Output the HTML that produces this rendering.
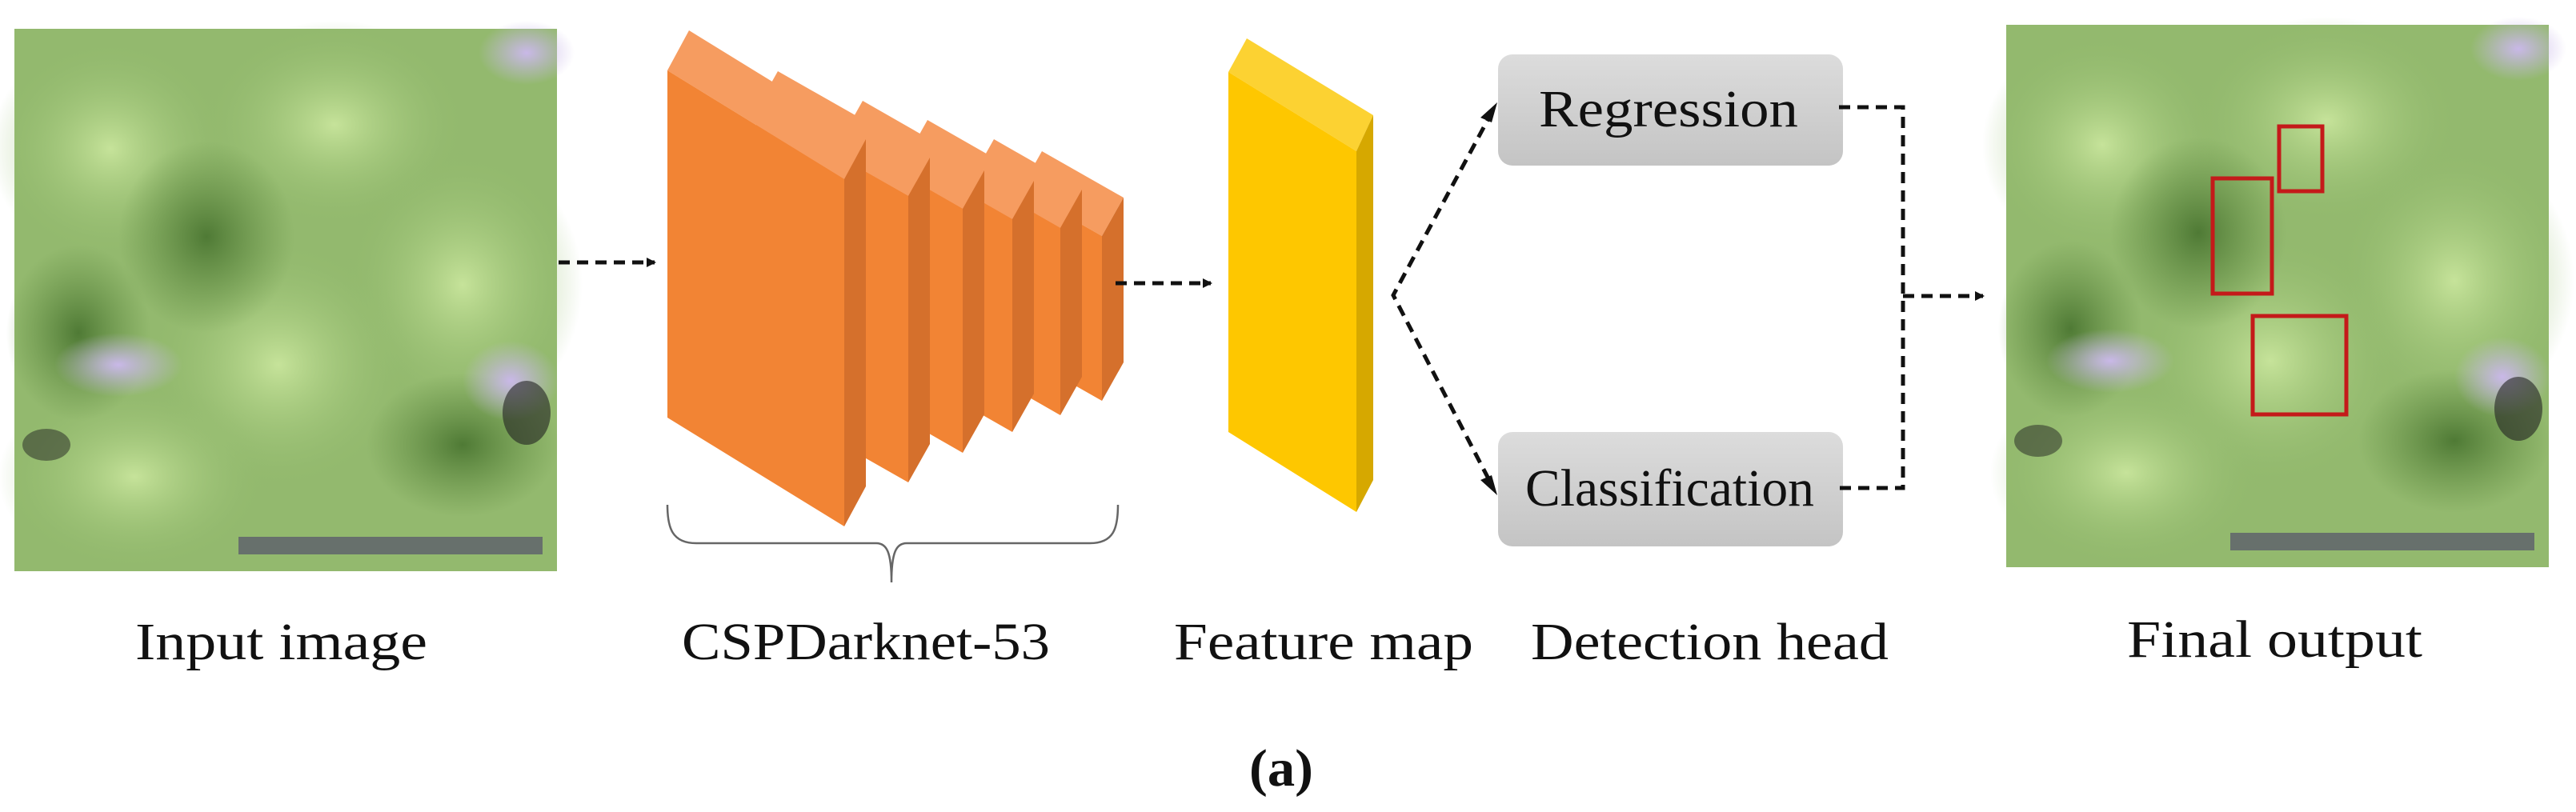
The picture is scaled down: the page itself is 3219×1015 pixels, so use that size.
<!DOCTYPE html>
<html><head><meta charset="utf-8"><style>
html,body{margin:0;padding:0;background:#fff;}
svg{display:block;}
text{font-family:"Liberation Serif",serif;fill:#111;}
</style></head><body>
<svg width="3219" height="1015" viewBox="0 0 3219 1015" xmlns="http://www.w3.org/2000/svg">
<defs>
<linearGradient id="box" x1="0" y1="0" x2="0" y2="1"><stop offset="0" stop-color="#dcdcdc"/><stop offset="1" stop-color="#c4c4c4"/></linearGradient>
<radialGradient id="lf1" cx="0.5" cy="0.5" r="0.5"><stop offset="0" stop-color="#c6e39a"/><stop offset="1" stop-color="#8fb86a" stop-opacity="0"/></radialGradient>
<radialGradient id="lf2" cx="0.5" cy="0.5" r="0.5"><stop offset="0" stop-color="#4f7a35"/><stop offset="1" stop-color="#5f8a40" stop-opacity="0"/></radialGradient>
<radialGradient id="lv" cx="0.5" cy="0.5" r="0.5"><stop offset="0" stop-color="#c9b8e8"/><stop offset="1" stop-color="#c9b8e8" stop-opacity="0"/></radialGradient>
<marker id="ah" markerWidth="12" markerHeight="12" refX="10" refY="6" orient="auto" markerUnits="userSpaceOnUse"><path d="M0,0 L12,6 L0,12 z" fill="#111"/></marker>
<g id="photo">
<rect x="0" y="0" width="678" height="678" fill="#93b96e"/>
<ellipse cx="120" cy="150" rx="150" ry="140" fill="url(#lf1)"/>
<ellipse cx="400" cy="120" rx="170" ry="130" fill="url(#lf1)"/>
<ellipse cx="560" cy="320" rx="150" ry="170" fill="url(#lf1)"/>
<ellipse cx="330" cy="420" rx="170" ry="160" fill="url(#lf1)"/>
<ellipse cx="150" cy="560" rx="170" ry="120" fill="url(#lf1)"/>
<ellipse cx="240" cy="260" rx="110" ry="120" fill="url(#lf2)"/>
<ellipse cx="560" cy="520" rx="120" ry="90" fill="url(#lf2)"/>
<ellipse cx="80" cy="380" rx="90" ry="110" fill="url(#lf2)"/>
<ellipse cx="130" cy="420" rx="80" ry="40" fill="url(#lv)"/>
<ellipse cx="640" cy="30" rx="60" ry="40" fill="url(#lv)"/>
<ellipse cx="620" cy="440" rx="60" ry="50" fill="url(#lv)"/>
<rect x="280" y="635" width="380" height="22" fill="#4a3f6a" opacity="0.6"/>
<ellipse cx="640" cy="480" rx="30" ry="40" fill="#222" opacity="0.6"/>
<ellipse cx="40" cy="520" rx="30" ry="20" fill="#222" opacity="0.5"/>
</g>
</defs>

<g transform="translate(18,36)"><use href="#photo"/></g>

<line x1="698" y1="328" x2="818" y2="328" stroke="#111" stroke-width="5" stroke-dasharray="14,9" marker-end="url(#ah)"/>

<g>
<polygon points="1275,237 1302,189 1404,247 1377,295" fill="#f69c60"/>
<polygon points="1377,295 1404,247 1404,453 1377,501" fill="#d5702c"/>
<polygon points="1275,237 1377,295 1377,501 1275,443" fill="#f28434"/>
<polygon points="1215,222 1242,174 1352,237 1325,285" fill="#f69c60"/>
<polygon points="1325,285 1352,237 1352,471 1325,519" fill="#d5702c"/>
<polygon points="1215,222 1325,285 1325,519 1215,456" fill="#f28434"/>
<polygon points="1132,198 1159,150 1292,226 1265,274" fill="#f69c60"/>
<polygon points="1265,274 1292,226 1292,492 1265,540" fill="#d5702c"/>
<polygon points="1132,198 1265,274 1265,540 1132,464" fill="#f28434"/>
<polygon points="1051,174 1078,126 1230,213 1203,261" fill="#f69c60"/>
<polygon points="1203,261 1230,213 1230,518 1203,566" fill="#d5702c"/>
<polygon points="1051,174 1203,261 1203,566 1051,479" fill="#f28434"/>
<polygon points="945,137 972,89 1162,197 1135,245" fill="#f69c60"/>
<polygon points="1135,245 1162,197 1162,555 1135,603" fill="#d5702c"/>
<polygon points="945,137 1135,245 1135,603 945,495" fill="#f28434"/>
<polygon points="834,88 861,38 1082,174 1055,224" fill="#f69c60"/>
<polygon points="1055,224 1082,174 1082,608 1055,658" fill="#d5702c"/>
<polygon points="834,88 1055,224 1055,658 834,522" fill="#f28434"/>
</g>

<path d="M834,631 C834,660 840,679 870,679 L1095,679 C1108,679 1114,690 1114,728 C1114,690 1120,679 1133,679 L1362,679 C1392,679 1397,660 1397,631" fill="none" stroke="#666" stroke-width="2.5"/>

<line x1="1394" y1="354" x2="1513" y2="354" stroke="#111" stroke-width="5" stroke-dasharray="14,9" marker-end="url(#ah)"/>

<polygon points="1535,90 1558,48 1716,144 1695,189" fill="#fcd232"/>
<polygon points="1695,189 1716,144 1716,600 1695,640" fill="#d6a800"/>
<polygon points="1535,90 1695,189 1695,640 1535,540" fill="#fec700"/>

<polyline points="1865,139 1741,369 1865,608" fill="none" stroke="#111" stroke-width="5" stroke-dasharray="14,9"/>
<path d="M1871,128 L1850,147 L1864,153 z" fill="#111"/>
<path d="M1871,619 L1850,600 L1864,594 z" fill="#111"/>

<rect x="1872" y="68" width="431" height="139" rx="18" fill="url(#box)"/>
<rect x="1872" y="540" width="431" height="143" rx="18" fill="url(#box)"/>
<text x="1923" y="158" font-size="66" textLength="324" lengthAdjust="spacingAndGlyphs">Regression</text>
<text x="1906" y="632" font-size="66" textLength="361" lengthAdjust="spacingAndGlyphs">Classification</text>

<polyline points="2298,134 2378,134 2378,610 2298,610" fill="none" stroke="#111" stroke-width="5" stroke-dasharray="14,9"/>
<line x1="2378" y1="370" x2="2478" y2="370" stroke="#111" stroke-width="5" stroke-dasharray="14,9" marker-end="url(#ah)"/>

<g transform="translate(2507,31)"><use href="#photo"/></g>
<rect x="2848" y="158" width="54" height="81" fill="none" stroke="#c41a1a" stroke-width="5"/>
<rect x="2765" y="223" width="74" height="144" fill="none" stroke="#c41a1a" stroke-width="5"/>
<rect x="2815" y="395" width="117" height="123" fill="none" stroke="#c41a1a" stroke-width="5"/>

<text x="169" y="824" font-size="66" textLength="365" lengthAdjust="spacingAndGlyphs">Input image</text>
<text x="852" y="824" font-size="66" textLength="460" lengthAdjust="spacingAndGlyphs">CSPDarknet-53</text>
<text x="1467" y="824" font-size="66" textLength="374" lengthAdjust="spacingAndGlyphs">Feature map</text>
<text x="1913" y="824" font-size="66" textLength="447" lengthAdjust="spacingAndGlyphs">Detection head</text>
<text x="2658" y="821" font-size="66" textLength="369" lengthAdjust="spacingAndGlyphs">Final output</text>
<text x="1561" y="982" font-size="66" font-weight="bold" textLength="80" lengthAdjust="spacingAndGlyphs">(a)</text>
</svg>
</body></html>
